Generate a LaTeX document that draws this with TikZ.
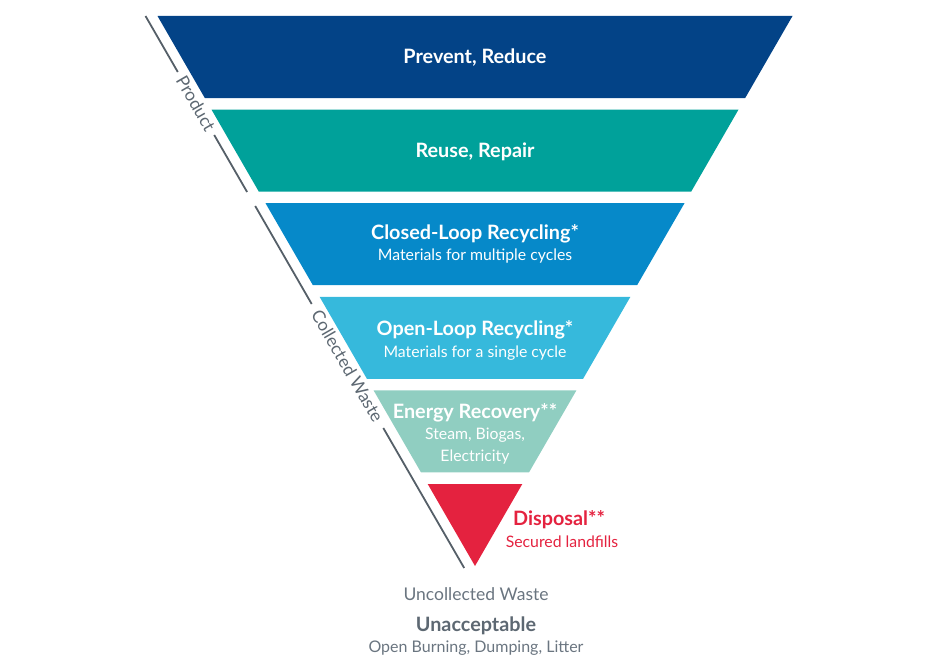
\documentclass[tikz,border=0pt]{standalone}
\usepackage{fontspec}
\setmainfont{Lato}
\definecolor{bandA}{HTML}{034387}
\definecolor{bandB}{HTML}{00A19A}
\definecolor{bandC}{HTML}{0689C9}
\definecolor{bandD}{HTML}{36B9DC}
\definecolor{bandE}{HTML}{90CEC1}
\definecolor{bandF}{HTML}{E4223F}
\definecolor{txtgray}{HTML}{5D6872}
\definecolor{lightgray}{HTML}{6A7580}
\definecolor{linegray}{HTML}{555F68}
\tikzset{
  title/.style={text=white, font=\fontsize{19.8}{22}\selectfont\bfseries, inner sep=0pt},
  sub/.style={text=white, font=\fontsize{15.8}{18}\selectfont, inner sep=0pt},
  side/.style={text=txtgray, font=\fontsize{17.5}{19}\selectfont, inner sep=0pt, rotate=-60},
  guide/.style={draw=linegray, line width=1.8pt},
}
\begin{document}
\begin{tikzpicture}[x=1pt,y=-1pt]
\useasboundingbox (0,0) rectangle (950,669);
% bands
\fill[bandA] (157.5,16) -- (792.5,16) -- (745.2,98) -- (204.8,98) -- cycle;
\fill[bandB] (211.5,109.6) -- (738.5,109.6) -- (691.2,191.6) -- (258.8,191.6) -- cycle;
\fill[bandC] (265.5,203.2) -- (684.5,203.2) -- (637.1,285.2) -- (312.9,285.2) -- cycle;
\fill[bandD] (319.6,296.8) -- (630.4,296.8) -- (583.1,378.8) -- (366.9,378.8) -- cycle;
\fill[bandE] (373.6,390.4) -- (576.4,390.4) -- (529.0,472.4) -- (421.0,472.4) -- cycle;
\fill[bandF] (427.7,484) -- (522.3,484) -- (475,566) -- cycle;
% guide lines
\coordinate (g1a) at (145.5,16);
\coordinate (g1b) at (177.8,72);
\coordinate (g2a) at (214.2,135);
\coordinate (g2b) at (247.1,192);
\coordinate (g3a) at (255.2,206);
\coordinate (g3b) at (311.7,304);
\coordinate (g4a) at (383.3,428);
\coordinate (g4b) at (464.2,568);
\draw[guide] (g1a) -- (g1b);
\draw[guide] (g2a) -- (g2b);
\draw[guide] (g3a) -- (g3b);
\draw[guide] (g4a) -- (g4b);
\node[side] (product) at (196,103.5) {Product};
\node[side] (collected) at (347.5,366) {Collected Waste};
% band texts
\node[title] (t1) at (475,57.5) {Prevent, Reduce};
\node[title] (t2) at (475,151.5) {Reuse, Repair};
\node[title] (t3) at (475,233.5) {Closed-Loop Recycling*};
\node[sub] (s3) at (475,256.5) {Materials for multiple cycles};
\node[title] (t4) at (475,329.5) {Open-Loop Recycling*};
\node[sub] (s4) at (475,353.5) {Materials for a single cycle};
\node[title] (t5) at (475,412.5) {Energy Recovery**};
\node[sub] (s5a) at (475,435.5) {Steam, Biogas,};
\node[sub] (s5b) at (475,457.5) {Electricity};
\node[title, text=bandF] (t6) at (559,519.5) {Disposal**};
\node[sub, text=bandF] (s6) at (562,541.5) {Secured landfills};
% bottom texts
\node[sub, text=lightgray, font=\fontsize{17.5}{19}\selectfont] (unc) at (476,594.5) {Uncollected Waste};
\node[title, text=txtgray] (una) at (476,625.5) {Unacceptable};
\node[sub, text=lightgray, font=\fontsize{16}{18}\selectfont] (open) at (476,648.5) {Open Burning, Dumping, Litter};
\end{tikzpicture}
\end{document}
